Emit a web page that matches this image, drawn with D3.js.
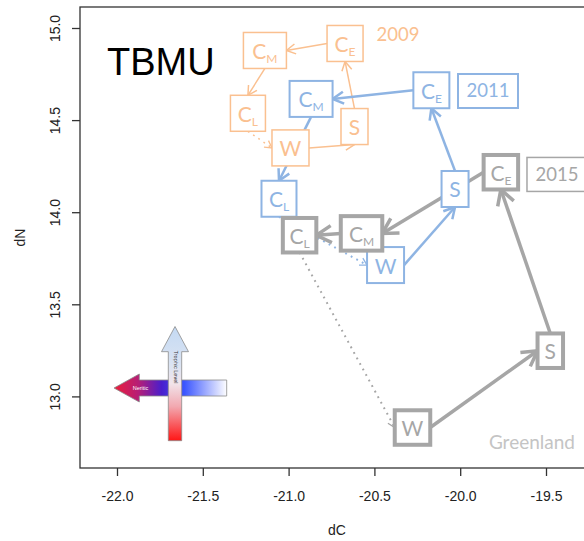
<!DOCTYPE html>
<html><head><meta charset="utf-8">
<script src="https://cdn.jsdelivr.net/npm/d3@7"></script>
<style>
html,body{margin:0;padding:0;background:#fff;}
svg{display:block;}
</style></head>
<body>
<script>
// ---------- data ----------
const seasons = ["W", "S", "C_E", "C_M", "C_L"];
const years = ["2009", "2011", "2015"];
const dC2009 = [-20.989, -20.616, -20.671, -21.138, -21.237];
const dN2009 = [14.349, 14.465, 14.916, 14.878, 14.537];
const dC2011 = [-20.435, -20.030, -20.168, -20.869, -21.056];
const dN2011 = [13.713, 14.126, 14.662, 14.615, 14.073];
const dC2015 = [-20.278, -19.475, -19.763, -20.575, -20.936];
const dN2015 = [12.831, 13.248, 14.217, 13.885, 13.875];
const xTicks = [-22.0, -21.5, -21.0, -20.5, -20.0, -19.5];
const yTicks = [13.0, 13.5, 14.0, 14.5, 15.0];
// year label annotations (data coords)
const yearLabelDC = [-20.362, -19.838, -19.436];
const yearLabelDN = [14.962, 14.658, 14.205];
const regionLabel = "Greenland";
const regionDC = -19.582, regionDN = 12.752;
const title = "TBMU";

(function () {
// ---------- styles ----------
const W = 584, H = 541;
const pL = 80, pT = 7, pB = 468, pR = 594;
const styles = {
  "2009": {color: "#FAC090", boxStroke: 1.5, line: 1.5, head: [9, 5], shrink: 0, yearBox: false},
  "2011": {color: "#8EB4E3", boxStroke: 2, line: 2.5, head: [11, 6], shrink: 0, yearBox: true},
  "2015": {color: "#A6A6A6", boxStroke: 4, line: 3.5, head: [15, 8.5], shrink: 1.5, yearBox: true}
};
const boxW = {"W": 37, "S": 27, "C_E": 36, "C_M": 43, "C_L": 35};
const boxH = 36;
// arrows: [from, to, fromSide, toSide, dotted]
const arrowSpec = {
  "2009": [["W","S","r","b",0],["S","C_E","t","b",0],["C_E","C_M","l","r",0],["C_M","C_L","b","t",0],["C_L","W","b","l",1]],
  "2011": [["W","S","r","b",0],["S","C_E","t","b",0],["C_E","C_M","l","r",0],["C_M","C_L","b","t",0],["C_L","W","b","l",1]],
  "2015": [["W","S","r","l",0],["S","C_E","t","b",0],["C_E","C_M","l","r",0],["C_M","C_L","l","r",0],["C_L","W","b","l",1]]
};

const dataByYear = {
  "2009": seasons.map((s, i) => ({s, dC: dC2009[i], dN: dN2009[i]})),
  "2011": seasons.map((s, i) => ({s, dC: dC2011[i], dN: dN2011[i]})),
  "2015": seasons.map((s, i) => ({s, dC: dC2015[i], dN: dN2015[i]}))
};

const x = d3.scaleLinear().domain([-22.2156, -19.2203]).range([pL, pR]);
const y = d3.scaleLinear().domain([12.6113, 15.114]).range([pB, pT]);

const svg = d3.select("body").append("svg").attr("width", W).attr("height", H);
const defs = svg.append("defs");
const axisFont = "'Liberation Sans', Arial, sans-serif";
const boxFont = "Lato, 'Open Sans', sans-serif";

// axes
const xAxis = d3.axisBottom(x).tickValues(xTicks).tickFormat(d => d.toFixed(1)).tickSize(8).tickPadding(15);
const gx = svg.append("g").attr("transform", `translate(0,${pB})`).call(xAxis);
gx.select(".domain").remove();
gx.selectAll("line").attr("stroke", "#333").attr("stroke-width", 1.3);
gx.selectAll("text").attr("font-family", axisFont).attr("font-size", 14).attr("fill", "#222");

const yAxis = d3.axisLeft(y).tickValues(yTicks).tickFormat(d => d.toFixed(1)).tickSize(8);
const gy = svg.append("g").attr("transform", `translate(${pL},0)`).call(yAxis);
gy.select(".domain").remove();
gy.selectAll("line").attr("stroke", "#333").attr("stroke-width", 1.3);
gy.selectAll("text").attr("font-family", axisFont).attr("font-size", 14).attr("fill", "#222")
  .attr("transform", "rotate(-90)").attr("text-anchor", "middle").attr("x", 0).attr("y", -20).attr("dy", null);

// frame
svg.append("rect").attr("x", pL).attr("y", pT).attr("width", pR - pL).attr("height", pB - pT)
  .attr("fill", "none").attr("stroke", "#333").attr("stroke-width", 1.3);

// axis titles
svg.append("text").attr("x", (pL + pR) / 2).attr("y", 535).attr("text-anchor", "middle")
  .attr("font-family", axisFont).attr("font-size", 14).attr("fill", "#222").text("dC");
svg.append("text").attr("transform", `translate(25,${(pT + pB) / 2}) rotate(-90)`).attr("text-anchor", "middle")
  .attr("font-family", axisFont).attr("font-size", 14).attr("fill", "#222").text("dN");

// title
svg.append("text").attr("x", 107).attr("y", 75).attr("font-family", axisFont)
  .attr("font-size", 38).attr("fill", "#000").text(title);

// ---------- legend graphic (decorative) ----------
const gv = defs.append("linearGradient").attr("id", "gv").attr("gradientUnits", "userSpaceOnUse")
  .attr("x1", 0).attr("y1", 326).attr("x2", 0).attr("y2", 441);
[[0, "#C3D9F3"], [0.35, "#DCE4F2"], [0.5, "#F1E4EA"], [0.7, "#F2A8B0"], [1, "#FF1414"]].forEach(([o, c]) =>
  gv.append("stop").attr("offset", o).attr("stop-color", c));
const gh = defs.append("linearGradient").attr("id", "gh").attr("gradientUnits", "userSpaceOnUse")
  .attr("x1", 114).attr("y1", 0).attr("x2", 227).attr("y2", 0);
[[0, "#EC1E3A"], [0.22, "#B41E78"], [0.42, "#4A1ECC"], [0.62, "#3A55FF"], [1, "#FFFFFF"]].forEach(([o, c]) =>
  gh.append("stop").attr("offset", o).attr("stop-color", c));
const lg = svg.append("g");
lg.append("path").attr("d", "M226.7,380 L139.3,380 L139.3,374 L114,388 L139.3,402 L139.3,396 L226.7,396 Z")
  .attr("fill", "url(#gh)").attr("stroke", "#8a8a8a").attr("stroke-width", 0.8);
lg.append("text").attr("x", 140.5).attr("y", 390).attr("text-anchor", "middle").attr("font-family", axisFont)
  .attr("font-size", 5.5).attr("fill", "#fff").text("Neritic");
lg.append("path").attr("d", "M168.3,440.7 L168.3,351.7 L161.5,351.7 L175,326.5 L188.5,351.7 L181.7,351.7 L181.7,440.7 Z")
  .attr("fill", "url(#gv)").attr("stroke", "#8a8a8a").attr("stroke-width", 0.8);
lg.append("text").attr("transform", "translate(173.5,367) rotate(90)").attr("text-anchor", "middle")
  .attr("font-family", axisFont).attr("font-size", 5.5).attr("fill", "#333").text("Trophic Level");

// ---------- helpers ----------
function boxOf(yr, d) {
  const st = styles[yr];
  const w = boxW[d.s] - st.shrink, h = boxH - st.shrink;
  return {cx: x(d.dC), cy: y(d.dN), w, h};
}
function port(b, side) {
  if (side === "l") return [b.cx - b.w / 2, b.cy];
  if (side === "r") return [b.cx + b.w / 2, b.cy];
  if (side === "t") return [b.cx, b.cy - b.h / 2];
  return [b.cx, b.cy + b.h / 2];
}

const lineLayer = svg.append("g");
const boxLayer = svg.append("g");

// arrows (all beneath boxes)
years.forEach(yr => {
  const st = styles[yr];
  const byS = {};
  dataByYear[yr].forEach(d => byS[d.s] = boxOf(yr, d));
  arrowSpec[yr].forEach(([a, b, sa, sb, dotted]) => {
    const p0 = port(byS[a], sa), p1 = port(byS[b], sb);
    const dx = p1[0] - p0[0], dy = p1[1] - p0[1], len = Math.hypot(dx, dy);
    const ux = dx / len, uy = dy / len;
    const lw = dotted ? Math.min(st.line, 2) : st.line;
    const [hl, hw] = dotted ? [7, 4] : st.head;
    lineLayer.append("line").attr("x1", p0[0]).attr("y1", p0[1]).attr("x2", p1[0]).attr("y2", p1[1])
      .attr("stroke", st.color).attr("stroke-width", lw)
      .attr("stroke-dasharray", dotted ? "1.8,4.5" : null);
    const bx = p1[0] - ux * hl, by = p1[1] - uy * hl;
    lineLayer.append("path")
      .attr("d", `M${bx - uy * hw},${by + ux * hw} L${p1[0]},${p1[1]} L${bx + uy * hw},${by - ux * hw}`)
      .attr("fill", "none").attr("stroke", st.color).attr("stroke-width", dotted ? 1.3 : lw)
      .attr("stroke-linejoin", "miter").attr("stroke-linecap", "butt");
  });
});

// boxes: blue, orange, grey order for overlaps
["2011", "2009", "2015"].forEach(yr => {
  const st = styles[yr];
  const g = boxLayer.append("g");
  dataByYear[yr].forEach(d => {
    const b = boxOf(yr, d);
    g.append("rect").attr("x", b.cx - b.w / 2).attr("y", b.cy - b.h / 2).attr("width", b.w).attr("height", b.h)
      .attr("fill", "#fff").attr("stroke", st.color).attr("stroke-width", st.boxStroke);
    const t = g.append("text").attr("x", b.cx).attr("y", b.cy + 8.5).attr("text-anchor", "middle")
      .attr("font-family", boxFont).attr("fill", st.color);
    if (d.s.startsWith("C_")) {
      t.append("tspan").attr("font-size", 21).text("C");
      t.append("tspan").attr("font-size", 12).attr("dy", 4).text(d.s.slice(2));
    } else {
      t.append("tspan").attr("font-size", 21).text(d.s);
    }
  });
});

// year labels
years.forEach((yr, i) => {
  const st = styles[yr];
  const cx = x(yearLabelDC[i]), cy = y(yearLabelDN[i]);
  if (st.yearBox) {
    svg.append("rect").attr("x", cx - 30).attr("y", cy - 17).attr("width", 60).attr("height", 34)
      .attr("fill", "#fff").attr("stroke", st.color).attr("stroke-width", yr === "2011" ? 2 : 1.5);
  }
  svg.append("text").attr("x", cx).attr("y", cy + 6.5).attr("text-anchor", "middle")
    .attr("font-family", boxFont).attr("font-size", 18.5).attr("fill", st.color).text(yr);
});

// region label
svg.append("text").attr("x", x(regionDC)).attr("y", y(regionDN) + 7).attr("text-anchor", "middle")
  .attr("font-family", boxFont).attr("font-size", 19).attr("fill", "#C4C4C4").text(regionLabel);
})();
</script>
</body></html>
